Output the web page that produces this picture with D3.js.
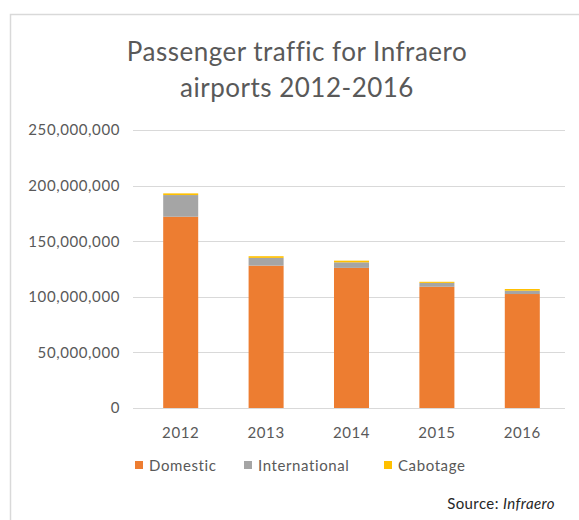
<!DOCTYPE html>
<html>
<head>
<meta charset="utf-8">
<script src="https://cdn.jsdelivr.net/npm/d3@7/dist/d3.min.js"></script>
<style>
  body { margin: 0; background: #fff; }
  text { font-family: Lato, "Open Sans", sans-serif; }
</style>
</head>
<body>
<div id="chart"></div>
<script>
// values in passengers
const years = ['2012', '2013', '2014', '2015', '2016'];
const domestic = [172000000, 128000000, 126000000, 109000000, 102500000];
const international = [19500000, 7000000, 5000000, 3500000, 3000000];
const cabotage = [1500000, 1500000, 1500000, 1000000, 1500000];
const seriesNames = ['Domestic', 'International', 'Cabotage'];
const seriesColors = ['#ED7D31', '#A5A5A5', '#FFC000'];
const yTicks = [0, 50000000, 100000000, 150000000, 200000000, 250000000];

const W = 579, H = 520;
const margin = { top: 130, right: 14, bottom: 112, left: 138 };
const width = W - margin.left - margin.right;
const height = H - margin.top - margin.bottom;

const svg = d3.select('#chart').append('svg')
  .attr('width', W)
  .attr('height', H);

// chart area frame
svg.append('rect')
  .attr('x', 10.5).attr('y', 14.5)
  .attr('width', 600).attr('height', 600)
  .attr('fill', 'none')
  .attr('stroke', '#d9d9d9')
  .attr('stroke-width', 1.5);

// title
const title = svg.append('text')
  .attr('text-anchor', 'middle')
  .attr('fill', '#595959')
  .style('font-size', '26px')
  .style('letter-spacing', '0.5px');
title.append('tspan').attr('x', 297).attr('y', 61).text('Passenger traffic for Infraero');
title.append('tspan').attr('x', 297).attr('y', 97).text('airports 2012-2016');

const g = svg.append('g')
  .attr('transform', 'translate(' + margin.left + ',' + margin.top + ')');

const x = d3.scaleBand().domain(years).range([0, width]).paddingInner(0.59).paddingOuter(0.295);
const y = d3.scaleLinear().domain([0, 250000000]).range([height, 0]);

// gridlines
g.append('g')
  .selectAll('line')
  .data(yTicks)
  .join('line')
  .attr('x1', -5).attr('x2', width)
  .attr('y1', d => Math.round(y(d)) + 0.5)
  .attr('y2', d => Math.round(y(d)) + 0.5)
  .attr('stroke', '#d9d9d9');

// y axis labels
const yAxis = d3.axisLeft(y).tickValues(yTicks).tickSize(0).tickPadding(18)
  .tickFormat(d3.format(','));
g.append('g').call(yAxis)
  .call(s => s.select('.domain').remove())
  .selectAll('text')
  .attr('fill', '#595959')
  .style('font-size', '15px')
  .style('letter-spacing', '0.6px');

// x axis labels
const xAxis = d3.axisBottom(x).tickSize(0).tickPadding(19);
g.append('g').attr('transform', 'translate(0,' + height + ')').call(xAxis)
  .call(s => s.select('.domain').remove())
  .selectAll('text')
  .attr('fill', '#595959')
  .style('font-size', '15px')
  .style('letter-spacing', '0.6px');

// stacked bars
const rows = years.map((yr, i) => ({ year: yr, Domestic: domestic[i], International: international[i], Cabotage: cabotage[i] }));
const stack = d3.stack().keys(seriesNames)(rows);

g.append('g')
  .selectAll('g')
  .data(stack)
  .join('g')
  .attr('fill', (d, i) => seriesColors[i])
  .selectAll('rect')
  .data(d => d)
  .join('rect')
  .attr('x', d => x(d.data.year))
  .attr('width', x.bandwidth())
  .attr('y', d => y(d[1]))
  .attr('height', d => y(d[0]) - y(d[1]));

// legend
const legendX = [135, 244, 384];
const legend = svg.append('g').attr('transform', 'translate(0,471)');
seriesNames.forEach((name, i) => {
  legend.append('rect')
    .attr('x', legendX[i]).attr('y', -10)
    .attr('width', 8).attr('height', 8)
    .attr('fill', seriesColors[i]);
  legend.append('text')
    .attr('x', legendX[i] + 14).attr('y', 0)
    .attr('fill', '#595959')
    .style('font-size', '15px')
    .style('letter-spacing', '0.6px')
    .text(name);
});

// source
const src = svg.append('text')
  .attr('x', 555).attr('y', 509)
  .attr('text-anchor', 'end')
  .attr('fill', '#262626')
  .style('font-size', '15px')
  .style('letter-spacing', '0.4px');
src.append('tspan').text('Source: ');
src.append('tspan').style('font-style', 'italic').text('Infraero');
</script>
</body>
</html>
